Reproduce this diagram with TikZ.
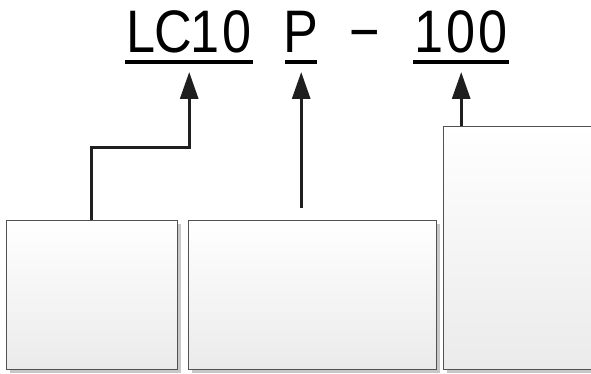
\documentclass[tikz,border=0pt]{standalone}
\usepackage{fontspec}
\newfontfamily\codefont{Liberation Sans}
\newcommand\cellchar[1]{\makebox[32pt]{\scalebox{0.87}[1]{#1}}}
\usetikzlibrary{arrows.meta,shadows}
\begin{document}
\begin{tikzpicture}[x=1pt,y=-1pt,
  boxstyle/.style={draw=black!68, line width=0.9pt, top color=white, bottom color=black!8,
    minimum width=#1, anchor=north west, inner sep=0pt,
    drop shadow={shadow xshift=4pt, shadow yshift=-4pt, fill=black!22, opacity=1}},
  codestyle/.style={inner sep=0pt, anchor=base west, font=\codefont\fontsize{60}{61}\selectfont},
  uline/.style={line width=3.2pt},
  arr/.style={line width=3pt, draw=black!88, -{Triangle[length=27pt,width=18pt]}}]
\useasboundingbox (0,0) rectangle (591,374);
% title text
\node[codestyle] (lc) at (125,53) {\cellchar{L}\cellchar{C}\cellchar{1}\cellchar{0}};
\node[codestyle] (p) at (285,53) {\cellchar{P}};
\node[codestyle] (dash) at (349,53) {\cellchar{−}};
\node[codestyle] (hund) at (413,53) {\cellchar{1}\cellchar{0}\cellchar{0}};
\foreach \n in {lc,p,hund}
  \draw[uline] ([yshift=-9pt]\n.base west) -- ([yshift=-9pt]\n.base east);
% boxes
\node[boxstyle=171pt, minimum height=149pt] (b1) at (6,220) {};
\node[boxstyle=248pt, minimum height=149pt] (b2) at (188,220) {};
\node[boxstyle=175pt, minimum height=243pt] (b3) at (443,126) {};
% arrow tips
\coordinate (t1) at ([yshift=-19pt]lc.base);
\coordinate (t2) at ([yshift=-19pt]p.base);
\coordinate (t3) at ([yshift=-19pt]hund.base);
\coordinate (s2) at ([yshift=12pt]b2.north);
% arrows
\draw[arr] (b1.north) -- ++(0,-72) -| (t1);
\draw[arr] (s2 -| t2) -- (t2);
\draw[arr] (b3.north west -| t3) -- (t3);
\end{tikzpicture}
\end{document}
